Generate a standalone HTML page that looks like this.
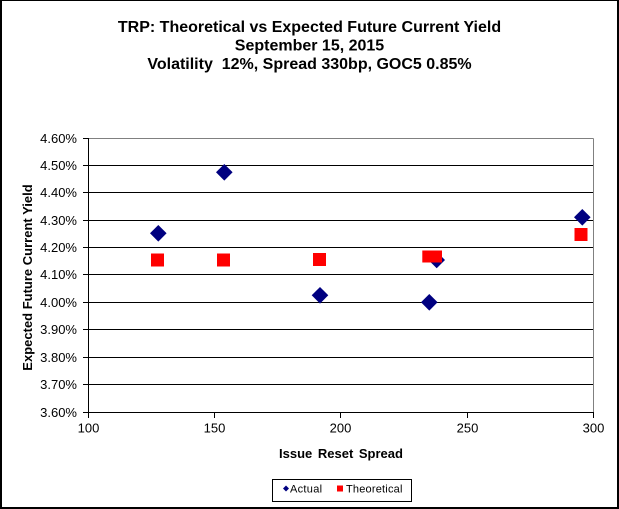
<!DOCTYPE html>
<html><head><meta charset="utf-8"><style>
html,body{margin:0;padding:0;background:#fff;}
svg{display:block;}
text{font-family:"Liberation Sans",Arial,sans-serif;fill:#000;}
</style></head><body>
<svg width="619" height="509" viewBox="0 0 619 509" xmlns="http://www.w3.org/2000/svg">
<rect x="0" y="0" width="619" height="509" fill="#fff"/>
<!-- outer border -->
<line x1="0" y1="0.5" x2="619" y2="0.5" stroke="#000" stroke-width="1"/>
<line x1="1" y1="0" x2="1" y2="509" stroke="#000" stroke-width="2"/>
<line x1="618" y1="0" x2="618" y2="509" stroke="#000" stroke-width="2"/>
<line x1="0" y1="508" x2="619" y2="508" stroke="#000" stroke-width="2"/>

<!-- title -->
<text x="309.5" y="32" font-size="16" font-weight="bold" text-anchor="middle">TRP: Theoretical vs Expected Future Current Yield</text>
<text x="309.5" y="50.5" font-size="16" font-weight="bold" text-anchor="middle">September 15, 2015</text>
<text x="309.5" y="69" font-size="16" font-weight="bold" text-anchor="middle">Volatility&#160; 12%, Spread 330bp, GOC5 0.85%</text>

<!-- gridlines -->
<g stroke="#000" stroke-width="1">
<line x1="88" y1="165.5" x2="593" y2="165.5"/>
<line x1="88" y1="192.5" x2="593" y2="192.5"/>
<line x1="88" y1="220.5" x2="593" y2="220.5"/>
<line x1="88" y1="247.5" x2="593" y2="247.5"/>
<line x1="88" y1="274.5" x2="593" y2="274.5"/>
<line x1="88" y1="302.5" x2="593" y2="302.5"/>
<line x1="88" y1="329.5" x2="593" y2="329.5"/>
<line x1="88" y1="357.5" x2="593" y2="357.5"/>
<line x1="88" y1="384.5" x2="593" y2="384.5"/>
</g>
<!-- plot border top/right gray -->
<line x1="88" y1="138.5" x2="593.5" y2="138.5" stroke="#808080" stroke-width="1"/>
<line x1="593.5" y1="138.5" x2="593.5" y2="412" stroke="#808080" stroke-width="1"/>
<!-- axes -->
<line x1="88.5" y1="138" x2="88.5" y2="413" stroke="#000" stroke-width="1"/>
<line x1="88" y1="412.5" x2="594" y2="412.5" stroke="#000" stroke-width="1"/>
<!-- y ticks -->
<g stroke="#000" stroke-width="1">
<line x1="83" y1="138.5" x2="88" y2="138.5"/>
<line x1="83" y1="165.5" x2="88" y2="165.5"/>
<line x1="83" y1="192.5" x2="88" y2="192.5"/>
<line x1="83" y1="220.5" x2="88" y2="220.5"/>
<line x1="83" y1="247.5" x2="88" y2="247.5"/>
<line x1="83" y1="274.5" x2="88" y2="274.5"/>
<line x1="83" y1="302.5" x2="88" y2="302.5"/>
<line x1="83" y1="329.5" x2="88" y2="329.5"/>
<line x1="83" y1="357.5" x2="88" y2="357.5"/>
<line x1="83" y1="384.5" x2="88" y2="384.5"/>
<line x1="83" y1="412.5" x2="88" y2="412.5"/>
<!-- x ticks -->
<line x1="88.5" y1="412" x2="88.5" y2="418"/>
<line x1="214.5" y1="412" x2="214.5" y2="418"/>
<line x1="340.5" y1="412" x2="340.5" y2="418"/>
<line x1="467.5" y1="412" x2="467.5" y2="418"/>
<line x1="593.5" y1="412" x2="593.5" y2="418"/>
</g>
<!-- y labels -->
<g font-size="13" text-anchor="end">
<text x="77" y="143">4.60%</text>
<text x="77" y="170">4.50%</text>
<text x="77" y="197">4.40%</text>
<text x="77" y="225">4.30%</text>
<text x="77" y="252">4.20%</text>
<text x="77" y="279">4.10%</text>
<text x="77" y="307">4.00%</text>
<text x="77" y="334">3.90%</text>
<text x="77" y="362">3.80%</text>
<text x="77" y="389">3.70%</text>
<text x="77" y="417">3.60%</text>
</g>
<!-- x labels -->
<g font-size="13" text-anchor="middle">
<text x="88.5" y="432.5">100</text>
<text x="214.5" y="432.5">150</text>
<text x="340.5" y="432.5">200</text>
<text x="467.5" y="432.5">250</text>
<text x="593.5" y="432.5">300</text>
</g>
<!-- axis titles -->
<text x="341" y="458" font-size="13" font-weight="bold" text-anchor="middle" word-spacing="2">Issue Reset Spread</text>
<text transform="translate(32,277.5) rotate(-90)" x="0" y="0" font-size="13" font-weight="bold" text-anchor="middle">Expected Future Current Yield</text>

<!-- Actual diamonds -->
<g fill="#000080">
<polygon points="224.3,164 232.6,172.3 224.3,180.6 216,172.3"/>
<polygon points="158.3,225 166.6,233.3 158.3,241.6 150,233.3"/>
<polygon points="320,287 328.3,295.3 320,303.6 311.7,295.3"/>
<polygon points="429.3,294 437.6,302.3 429.3,310.6 421,302.3"/>
<polygon points="436.7,251.7 445,260 436.7,268.3 428.4,260"/>
<polygon points="582.3,209 590.6,217.3 582.3,225.6 574,217.3"/>
</g>
<!-- Theoretical squares -->
<g fill="#ff0000">
<rect x="151" y="253.5" width="13" height="13"/>
<rect x="217" y="253.5" width="13" height="13"/>
<rect x="313" y="253" width="13" height="13"/>
<rect x="422.3" y="250.5" width="13" height="12"/>
<rect x="429" y="250.5" width="13" height="12"/>
<rect x="574.5" y="228" width="13" height="13"/>
</g>

<!-- legend -->
<rect x="272.5" y="479.5" width="139" height="22" fill="#fff" stroke="#000" stroke-width="1"/>
<polygon points="286,485.5 289,488.5 286,491.5 283,488.5" fill="#000080"/>
<text x="290" y="492.5" font-size="11" letter-spacing="0.3">Actual</text>
<rect x="337" y="485.5" width="6" height="6" fill="#ff0000"/>
<text x="346" y="492.5" font-size="11" letter-spacing="0.2">Theoretical</text>
</svg>
</body></html>
